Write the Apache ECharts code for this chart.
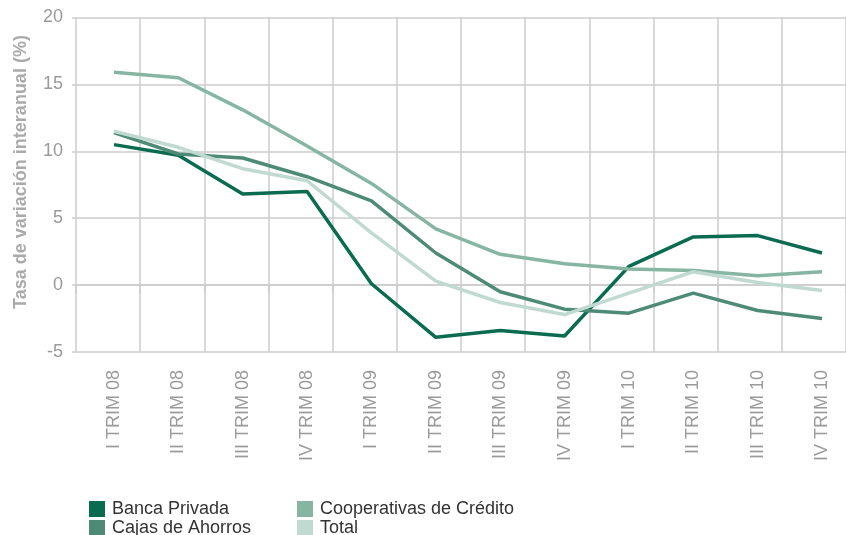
<!DOCTYPE html>
<html>
<head>
<meta charset="utf-8">
<script src="https://cdn.jsdelivr.net/npm/echarts@6/dist/echarts.min.js"></script>
<style>html,body{margin:0;padding:0;background:#fff}#c{width:846px;height:535px}</style>
</head>
<body>
<div id="c"></div>
<script>
const categories = ['I TRIM 08','II TRIM 08','III TRIM 08','IV TRIM 08','I TRIM 09','II TRIM 09','III TRIM 09','IV TRIM 09','I TRIM 10','II TRIM 10','III TRIM 10','IV TRIM 10'];
const bancaPrivada = [10.5, 9.7, 6.8, 7.0, 0.1, -3.9, -3.4, -3.8, 1.4, 3.6, 3.7, 2.4];
const cajasAhorros = [11.4, 9.8, 9.5, 8.1, 6.3, 2.4, -0.5, -1.8, -2.1, -0.6, -1.9, -2.5];
const cooperativas = [15.9, 15.5, 13.1, 10.4, 7.6, 4.2, 2.3, 1.6, 1.2, 1.1, 0.7, 1.0];
const total = [11.5, 10.3, 8.7, 7.8, 3.9, 0.3, -1.3, -2.2, -0.6, 1.0, 0.2, -0.4];
const yTicks = [-5, 0, 5, 10, 15, 20];
const yTitle = 'Tasa de variación interanual (%)';

const FONT = 'Liberation Sans, Arial, sans-serif';
const GRID = '#cccccc';
const chart = echarts.init(document.getElementById('c'), null, {renderer: 'canvas'});
const names = ['Banca Privada', 'Cajas de Ahorros', 'Cooperativas de Crédito', 'Total'];
const colors = ['#0a6b50', '#4d8b77', '#86b5a3', '#c0dad1'];
const datasets = [bancaPrivada, cajasAhorros, cooperativas, total];
const legendPos = [[89, 500], [89, 519], [297, 500], [297, 519]];

chart.setOption({
  animation: false,
  color: colors,
  grid: [
    {left: 76, right: -10, top: 17.5, bottom: 183},
    {left: 114, right: 24, top: 17.5, bottom: 183}
  ],
  graphic: [{
    type: 'text',
    x: 21, y: 172,
    rotation: Math.PI / 2,
    style: {text: yTitle, font: 'bold 18px ' + FONT, fill: '#aaaaaa', align: 'center', verticalAlign: 'middle'}
  }],
  xAxis: [
    {gridIndex: 0, type: 'value', min: 0, max: 12, interval: 1,
      axisLine: {show: true, lineStyle: {color: GRID, width: 1.5}},
      axisTick: {show: true, length: 8, lineStyle: {color: GRID, width: 1.5}},
      axisLabel: {show: false},
      splitLine: {show: true, lineStyle: {color: GRID, width: 1.5}}},
    {gridIndex: 1, type: 'category', data: categories, boundaryGap: false,
      axisLine: {show: false}, axisTick: {show: false}, splitLine: {show: false},
      axisLabel: {rotate: 90, margin: 18, color: '#9a9a9a', fontSize: 18, fontFamily: FONT, interval: 0}}
  ],
  yAxis: [
    {gridIndex: 0, type: 'value', min: yTicks[0], max: yTicks[yTicks.length - 1], interval: 5,
      axisLine: {show: false},
      axisTick: {show: true, length: 4, lineStyle: {color: GRID, width: 1.5}},
      axisLabel: {margin: 13, color: '#9a9a9a', fontSize: 18, fontFamily: FONT},
      splitLine: {show: true, lineStyle: {color: GRID, width: 1.5}}},
    {gridIndex: 1, type: 'value', min: yTicks[0], max: yTicks[yTicks.length - 1], interval: 5,
      show: false, splitLine: {show: false}}
  ],
  legend: names.map((n, i) => ({
    left: legendPos[i][0], top: legendPos[i][1], padding: 0, orient: 'horizontal',
    itemWidth: 16, itemHeight: 16, itemGap: 0, icon: 'rect', selectedMode: false,
    data: [n], textStyle: {fontSize: 18, fontFamily: FONT, color: '#333', lineHeight: 16, padding: [0, 0, 0, 2]}
  })),
  series: datasets.map((d, i) => ({
    name: names[i], type: 'line', xAxisIndex: 1, yAxisIndex: 1, data: d,
    showSymbol: false, symbol: 'none', lineStyle: {width: 3.5, color: colors[i]}, itemStyle: {color: colors[i]}, z: 2 + i
  }))
});
</script>
</body>
</html>
